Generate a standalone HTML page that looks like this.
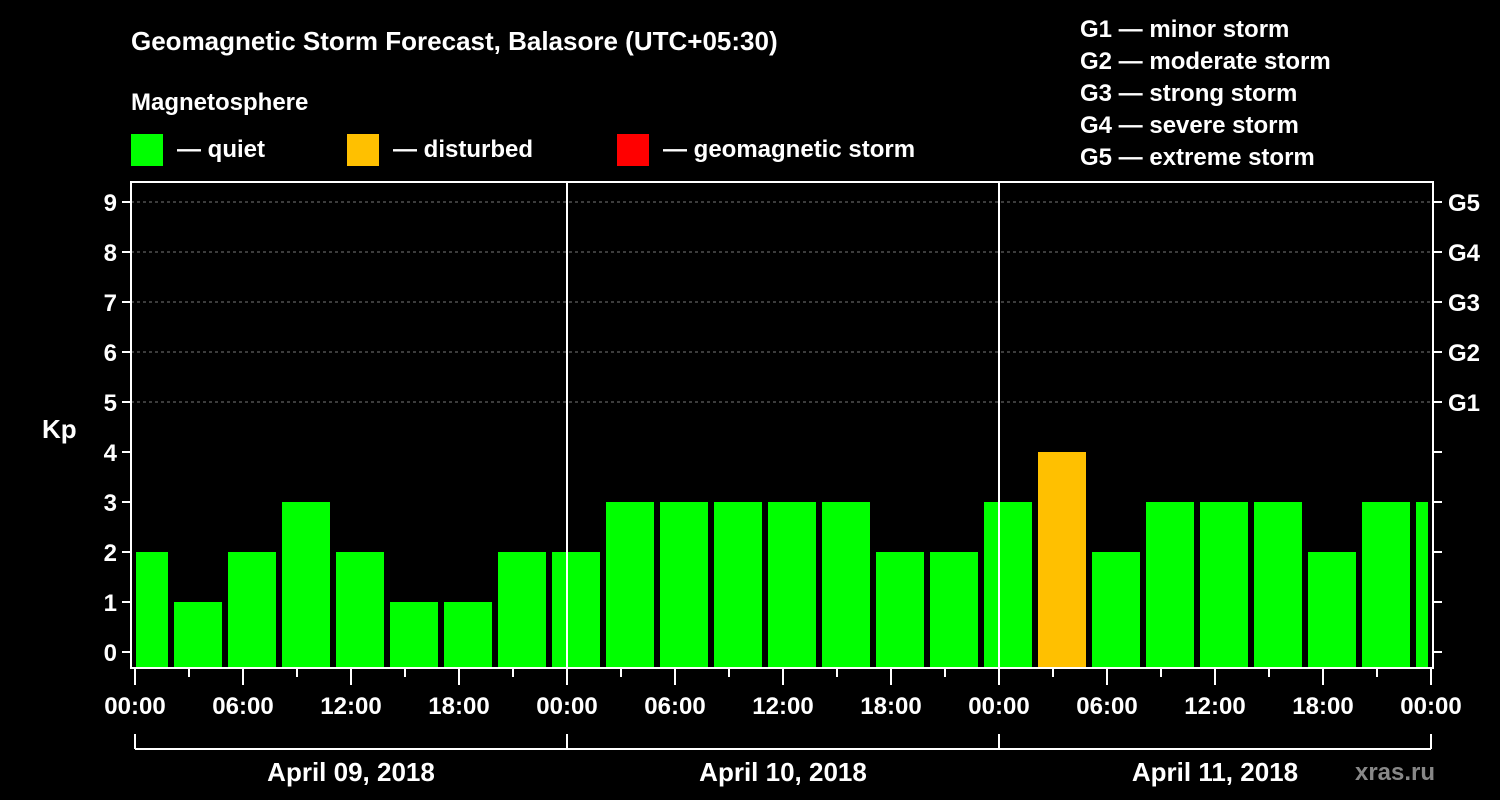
<!DOCTYPE html>
<html><head><meta charset="utf-8"><style>
html,body{margin:0;padding:0;background:#000;}
svg{display:block;font-family:"Liberation Sans",Arial,sans-serif;font-weight:bold;}
</style></head><body>
<svg id="chart" width="1500" height="800" viewBox="0 0 1500 800">
<text x="131" y="50" fill="#fff" font-size="26">Geomagnetic Storm Forecast, Balasore (UTC+05:30)</text>
<text x="131" y="110" fill="#fff" font-size="24">Magnetosphere</text>
<g><rect x="131" y="134" width="32" height="32" fill="#00ff00"/><text x="177" y="157" fill="#fff" font-size="24">— quiet</text></g>
<g><rect x="347" y="134" width="32" height="32" fill="#ffc000"/><text x="393" y="157" fill="#fff" font-size="24">— disturbed</text></g>
<g><rect x="617" y="134" width="32" height="32" fill="#ff0000"/><text x="663" y="157" fill="#fff" font-size="24">— geomagnetic storm</text></g>
<g fill="#fff" font-size="24">
<text x="1080" y="37">G1 — minor storm</text>
<text x="1080" y="69">G2 — moderate storm</text>
<text x="1080" y="101">G3 — strong storm</text>
<text x="1080" y="133">G4 — severe storm</text>
<text x="1080" y="165">G5 — extreme storm</text>
</g>
<text x="42" y="438" fill="#fff" font-size="26">Kp</text>
<g id="grid"></g><g id="bars"></g><g id="axes"></g>
<text x="1395" y="780" fill="#888" font-size="24" text-anchor="middle">xras.ru</text>
</svg>
<script>
const values=[2,1,2,3,2,1,1,2,2,3,3,3,3,3,2,2,3,4,2,3,3,3,2,3,3];
const days=["April 09, 2018","April 10, 2018","April 11, 2018"];
const hourLabels=["00:00","06:00","12:00","18:00"];
const gLabels=["G1","G2","G3","G4","G5"];
const NS="http://www.w3.org/2000/svg";
const X0=135,PXH=18,Y0=652,PXK=50,LEFT=131,RIGHT=1433,TOP=182,BOT=668;
const xs=h=>X0+h*PXH, ys=k=>Y0-k*PXK;
function mk(t,a,p){const e=document.createElementNS(NS,t);for(const k in a)e.setAttribute(k,a[k]);p.appendChild(e);return e;}
const grid=document.getElementById('grid'),bars=document.getElementById('bars'),axes=document.getElementById('axes');
for(let k=5;k<=9;k++){const l=mk('line',{x1:LEFT,x2:RIGHT,y1:ys(k),y2:ys(k),stroke:'#777','stroke-dasharray':'3,3'},grid);

}
values.forEach((v,i)=>{
 const s=-1+i*3; let x1=xs(s)+3,x2=xs(s+3)-3;
 x1=Math.max(x1,LEFT+5);x2=Math.min(x2,RIGHT-5);
 const col=v>=5?'#ff0000':(v>=4?'#ffc000':'#00ff00');
 const r=mk('rect',{x:x1,y:ys(v),width:x2-x1,height:BOT-ys(v),fill:col},bars);
 
 
});
mk('rect',{x:LEFT,y:TOP,width:RIGHT-LEFT,height:BOT-TOP,fill:'none',stroke:'#fff','stroke-width':2},axes);
for(let d=1;d<3;d++){mk('line',{x1:xs(24*d),x2:xs(24*d),y1:TOP,y2:BOT,stroke:'#fff','stroke-width':2},axes);}
for(let k=0;k<=9;k++){
 mk('line',{x1:LEFT-9,x2:LEFT,y1:ys(k),y2:ys(k),stroke:'#fff','stroke-width':2},axes);
 mk('line',{x1:RIGHT,x2:RIGHT+9,y1:ys(k),y2:ys(k),stroke:'#fff','stroke-width':2},axes);
 const t=mk('text',{x:LEFT-14,y:ys(k)+9,fill:'#fff','font-size':24,'text-anchor':'end'},axes);t.textContent=k;
 
 
 if(k>=5){const g=mk('text',{x:1448,y:ys(k)+9,fill:'#fff','font-size':24},axes);g.textContent=gLabels[k-5];
 
 }
}
for(let h=0;h<=72;h+=3){const major=h%6===0;
 mk('line',{x1:xs(h),x2:xs(h),y1:BOT,y2:BOT+(major?17:9),stroke:'#fff','stroke-width':2},axes);
 if(major&&h%6===0&&(h%24)%6===0){const lab=hourLabels[(h%24)/6];
  const t=mk('text',{x:xs(h),y:714,fill:'#fff','font-size':24,'text-anchor':'middle'},axes);t.textContent=lab;
  
  }
}
mk('line',{x1:xs(0),x2:xs(72),y1:749,y2:749,stroke:'#fff','stroke-width':2},axes);
for(let d=0;d<=3;d++)mk('line',{x1:xs(24*d),x2:xs(24*d),y1:734,y2:749,stroke:'#fff','stroke-width':2},axes);
days.forEach((dname,d)=>{const t=mk('text',{x:xs(24*d+12),y:781,fill:'#fff','font-size':26,'text-anchor':'middle'},axes);t.textContent=dname;
 
 });
</script>
</body></html>
